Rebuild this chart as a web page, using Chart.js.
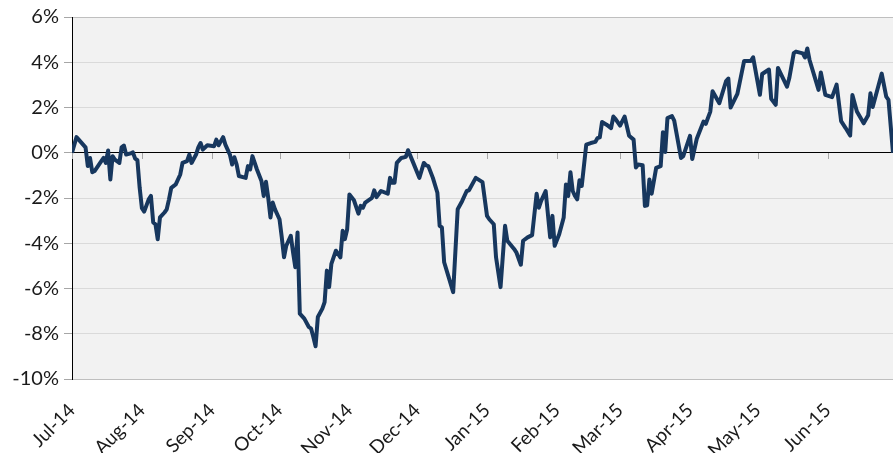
<!DOCTYPE html>
<html>
<head>
<meta charset="utf-8">
<script src="https://cdn.jsdelivr.net/npm/chart.js@4.4.1/dist/chart.umd.min.js"></script>
<style>
  html, body { margin: 0; padding: 0; background: #fff; }
</style>
</head>
<body>
<canvas id="grafico" width="893" height="453"></canvas>
<script>
const fechas = [
  '2014-07-01','2014-07-03','2014-07-07','2014-07-08','2014-07-09','2014-07-10','2014-07-11','2014-07-14','2014-07-15','2014-07-16',
  '2014-07-17','2014-07-18','2014-07-19','2014-07-20','2014-07-22','2014-07-23','2014-07-24','2014-07-25','2014-07-27','2014-07-28',
  '2014-07-29','2014-07-30','2014-07-31','2014-08-01','2014-08-02','2014-08-04','2014-08-05','2014-08-06','2014-08-07','2014-08-08',
  '2014-08-09','2014-08-11','2014-08-12','2014-08-13','2014-08-14','2014-08-16','2014-08-18','2014-08-19','2014-08-21','2014-08-22',
  '2014-08-23','2014-08-25','2014-08-26','2014-08-27','2014-08-28','2014-08-30','2014-09-02','2014-09-03','2014-09-04','2014-09-06',
  '2014-09-07','2014-09-09','2014-09-10','2014-09-11','2014-09-12','2014-09-13','2014-09-16','2014-09-17','2014-09-18','2014-09-19',
  '2014-09-21','2014-09-23','2014-09-24','2014-09-25','2014-09-26','2014-09-27','2014-09-28','2014-09-29','2014-10-01','2014-10-02',
  '2014-10-03','2014-10-04','2014-10-06','2014-10-07','2014-10-08','2014-10-09','2014-10-10','2014-10-12','2014-10-14','2014-10-15',
  '2014-10-16','2014-10-17','2014-10-18','2014-10-20','2014-10-21','2014-10-22','2014-10-23','2014-10-24','2014-10-26','2014-10-28',
  '2014-10-29','2014-10-30','2014-10-31','2014-11-01','2014-11-03','2014-11-05','2014-11-06','2014-11-07','2014-11-08','2014-11-11',
  '2014-11-12','2014-11-13','2014-11-15','2014-11-18','2014-11-19','2014-11-20','2014-11-21','2014-11-22','2014-11-24','2014-11-26',
  '2014-11-27','2014-11-29','2014-12-02','2014-12-04','2014-12-05','2014-12-06','2014-12-08','2014-12-10','2014-12-11','2014-12-12',
  '2014-12-13','2014-12-15','2014-12-17','2014-12-19','2014-12-21','2014-12-23','2014-12-24','2014-12-27','2014-12-30','2015-01-01',
  '2015-01-02','2015-01-04','2015-01-05','2015-01-07','2015-01-09','2015-01-10','2015-01-13','2015-01-14','2015-01-16','2015-01-17',
  '2015-01-19','2015-01-21','2015-01-23','2015-01-24','2015-01-25','2015-01-27','2015-01-29','2015-01-30','2015-01-31','2015-02-02',
  '2015-02-04','2015-02-05','2015-02-06','2015-02-07','2015-02-08','2015-02-09','2015-02-10','2015-02-11','2015-02-12','2015-02-14',
  '2015-02-16','2015-02-18','2015-02-19','2015-02-20','2015-02-21','2015-02-23','2015-02-25','2015-02-26','2015-02-27','2015-03-01',
  '2015-03-03','2015-03-05','2015-03-07','2015-03-08','2015-03-09','2015-03-11','2015-03-12','2015-03-13','2015-03-14','2015-03-15',
  '2015-03-17','2015-03-19','2015-03-20','2015-03-21','2015-03-22','2015-03-24','2015-03-25','2015-03-28','2015-03-29','2015-04-01',
  '2015-04-02','2015-04-04','2015-04-07','2015-04-08','2015-04-10','2015-04-11','2015-04-14','2015-04-17','2015-04-18','2015-04-19',
  '2015-04-22','2015-04-25','2015-04-28','2015-04-29','2015-05-02','2015-05-03','2015-05-06','2015-05-07','2015-05-09','2015-05-10',
  '2015-05-14','2015-05-15','2015-05-17','2015-05-18','2015-05-21','2015-05-22','2015-05-23','2015-05-24','2015-05-28','2015-05-29',
  '2015-05-31','2015-06-03','2015-06-05','2015-06-07','2015-06-09','2015-06-11','2015-06-12','2015-06-14','2015-06-17','2015-06-19',
  '2015-06-20','2015-06-21','2015-06-25','2015-06-27','2015-06-28','2015-06-30'
]

const rentabilidad = [
  0.00, 0.69, 0.24, -0.59, -0.23, -0.86, -0.81, -0.37, -0.23, -0.45,
  0.10, -1.18, -0.15, -0.30, -0.45, 0.24, 0.32, -0.08, -0.03, 0.02,
  -0.26, -0.33, -1.55, -2.45, -2.60, -2.06, -1.91, -3.08, -3.16, -3.82,
  -2.86, -2.64, -2.50, -2.06, -1.55, -1.40, -0.96, -0.45, -0.37, -0.08,
  -0.45, -0.08, 0.24, 0.43, 0.14, 0.33, 0.29, 0.58, 0.33, 0.69,
  0.36, -0.08, -0.52, -0.20, -0.52, -1.03, -1.11, -0.59, -0.74, -0.15,
  -0.74, -1.25, -1.91, -1.28, -1.99, -2.86, -2.20, -2.50, -2.94, -3.74,
  -4.62, -4.11, -3.67, -4.40, -5.06, -3.52, -7.11, -7.33, -7.70, -7.77,
  -8.14, -8.55, -7.26, -6.89, -6.60, -5.21, -5.94, -4.91, -4.33, -4.62,
  -3.45, -3.82, -3.38, -1.84, -2.10, -2.69, -2.35, -2.43, -2.20, -1.99,
  -1.66, -1.96, -1.69, -1.81, -1.11, -1.33, -1.33, -0.45, -0.23, -0.18,
  0.11, -0.37, -1.11, -0.45, -0.56, -0.59, -1.11, -1.77, -3.23, -3.30,
  -4.84, -5.50, -6.16, -2.50, -2.13, -1.69, -1.66, -1.11, -1.30, -2.79,
  -2.94, -3.16, -4.62, -5.94, -3.23, -3.89, -4.25, -4.40, -4.95, -3.89,
  -3.74, -3.64, -1.81, -2.43, -2.13, -1.69, -3.74, -2.79, -4.11, -3.60,
  -2.86, -1.40, -1.91, -0.86, -1.69, -1.91, -2.06, -1.22, -1.47, 0.36,
  0.43, 0.48, 0.65, 0.68, 1.36, 1.24, 1.09, 1.60, 1.49, 1.20,
  1.60, 0.75, 0.58, -0.65, -0.52, -0.55, -2.35, -2.32, -1.18, -1.81,
  -0.67, -0.59, 0.91, 0.03, 1.53, 1.62, 1.42, -0.23, -0.15, 0.75,
  -0.28, 0.62, 1.38, 1.28, 1.82, 2.72, 2.19, 3.17, 3.28, 2.00,
  2.60, 4.06, 4.06, 4.22, 2.56, 3.48, 3.68, 2.38, 2.12, 3.75,
  2.92, 3.29, 4.40, 4.47, 4.39, 4.21, 4.61, 4.10, 2.78, 3.55,
  2.56, 2.46, 3.01, 1.40, 1.09, 0.76, 2.55, 1.82, 1.30, 1.66,
  2.63, 2.02, 3.50, 2.48, 2.34, 0.00
]

const inicioMes = ['2014-07-01','2014-08-01','2014-09-01','2014-10-01','2014-11-01','2014-12-01',
  '2015-01-01','2015-02-01','2015-03-01','2015-04-01','2015-05-01','2015-06-01']
const etiquetasMes = ['Jul-14','Aug-14','Sep-14','Oct-14','Nov-14','Dec-14',
  'Jan-15','Feb-15','Mar-15','Apr-15','May-15','Jun-15']

const fechaFin = '2015-06-30'

// dias desde el 1 de julio de 2014
const dia = (f) => Math.round((Date.parse(f) - Date.parse(inicioMes[0])) / 86400000)

const puntos = fechas.map((f, i) => ({ x: dia(f), y: rentabilidad[i] }))

const fondo = {
  id: 'fondo',
  beforeDraw(chart) {
    const { ctx, chartArea: a } = chart
    ctx.save()
    ctx.fillStyle = '#f2f2f2'
    ctx.fillRect(a.left, a.top, a.right - a.left, a.bottom - a.top)
    ctx.restore()
  }
}

// marcas de mes sobre la linea del cero
const marcas = {
  id: 'marcas',
  beforeDatasetsDraw(chart) {
    const { ctx, scales: { x, y } } = chart
    const y0 = Math.round(y.getPixelForValue(0))
    ctx.save()
    ctx.strokeStyle = '#a6a6a6'
    ctx.lineWidth = 1
    x.ticks.forEach(t => {
      const px = Math.round(x.getPixelForValue(t.value)) + 0.5
      ctx.beginPath()
      ctx.moveTo(px, y0)
      ctx.lineTo(px, y0 + 6)
      ctx.stroke()
    })
    ctx.restore()
  }
}

new Chart(document.getElementById('grafico').getContext('2d'), {
  type: 'line',
  data: {
    datasets: [{
      data: puntos,
      borderColor: '#17375e',
      borderWidth: 4,
      pointRadius: 0,
      tension: 0,
      borderJoinStyle: 'round'
    }]
  },
  plugins: [fondo, marcas],
  options: {
    responsive: false,
    animation: false,
    devicePixelRatio: 1,
    layout: { padding: { top: 15, right: 0, left: 0, bottom: 0 } },
    plugins: { legend: { display: false }, tooltip: { enabled: false } },
    scales: {
      x: {
        type: 'linear',
        min: 0,
        max: dia(fechaFin),
        afterBuildTicks: (scale) => { scale.ticks = inicioMes.map(f => ({ value: dia(f) })) },
        afterFit: (scale) => { scale.height = 74 },
        grid: { display: false },
        border: { display: false },
        ticks: {
          autoSkip: false,
          minRotation: 45,
          maxRotation: 45,
          padding: 12,
          color: '#1a1a1a',
          font: { family: 'Lato', size: 19 },
          callback: (v, i) => etiquetasMes[i]
        }
      },
      y: {
        min: -10,
        max: 6,
        afterFit: (scale) => { scale.width = 72 },
        border: { display: true, color: '#000', width: 1 },
        grid: {
          color: (c) => c.tick.value === 0 ? '#000' : (c.tick.value === 6 || c.tick.value === -10 ? '#bfbfbf' : '#dadada'),
          tickColor: '#a6a6a6',
          tickLength: 8
        },
        ticks: {
          stepSize: 2,
          padding: 5,
          color: '#1a1a1a',
          font: { family: 'Lato', size: 20 },
          callback: (v) => v + '%'
        }
      }
    }
  }
})
</script>
</body>
</html>
